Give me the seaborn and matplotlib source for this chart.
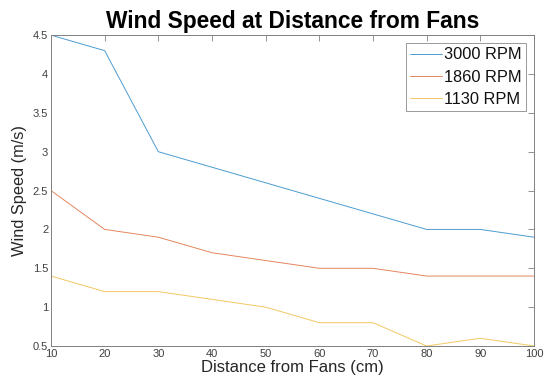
import numpy as np
import pandas as pd
import seaborn as sns
import matplotlib.pyplot as plt

distancia = [10, 20, 30, 40, 50, 60, 70, 80, 90, 100]
rpm_3000 = [4.5, 4.3, 3.0, 2.8, 2.6, 2.4, 2.2, 2.0, 2.0, 1.9]
rpm_1860 = [2.5, 2.0, 1.9, 1.7, 1.6, 1.5, 1.5, 1.4, 1.4, 1.4]
rpm_1130 = [1.4, 1.2, 1.2, 1.1, 1.0, 0.8, 0.8, 0.5, 0.6, 0.5]
series = ["3000 RPM", "1860 RPM", "1130 RPM"]
colores = ["#0072BD", "#D95319", "#EDB120"]

df = pd.DataFrame({
    "distancia": distancia * 3,
    "velocidad": rpm_3000 + rpm_1860 + rpm_1130,
    "serie": [s for s in series for _ in distancia],
})

sns.set_style("white")
plt.rcParams["font.family"] = ["Liberation Sans", "DejaVu Sans"]

fig = plt.figure(figsize=(5.46, 3.86), dpi=100)
ax = fig.add_axes([0.0934, 0.1036, 0.8846, 0.8054])

sns.lineplot(data=df, x="distancia", y="velocidad", hue="serie",
             hue_order=series, palette=colores, linewidth=0.7, alpha=0.7, ax=ax)

ax.set_xlim(10, 100)
ax.set_ylim(0.5, 4.5)
ax.set_xticks(range(10, 101, 10))
ax.set_yticks(np.arange(0.5, 4.51, 0.5))
ax.set_yticklabels(["0.5", "1", "1.5", "2", "2.5", "3", "3.5", "4", "4.5"])
ax.tick_params(direction="in", length=4, width=0.6, labelsize=8,
               color="#808080", labelcolor="#404040", top=True, right=True, pad=2)
for lado in ax.spines.values():
    lado.set_color("#808080")
    lado.set_linewidth(0.7)

ax.set_xlabel("Distance from Fans (cm)", fontsize=12, color="#262626", labelpad=1)
ax.set_ylabel("Wind Speed (m/s)", fontsize=11.8, color="#262626", labelpad=4)
ax.set_title("Wind Speed at Distance from Fans", fontsize=16.4, fontweight="bold",
             color="black", pad=5)

leg = ax.legend(loc="upper right", fontsize=11.8, frameon=True, fancybox=False,
                edgecolor="#808080", handlelength=1.9, handletextpad=0.15,
                borderpad=0.25, labelspacing=0.45, borderaxespad=0.5)
leg.get_frame().set_linewidth(0.7)
for t in leg.get_texts():
    t.set_color("#111111")

fig.savefig("out.png", dpi=100)
